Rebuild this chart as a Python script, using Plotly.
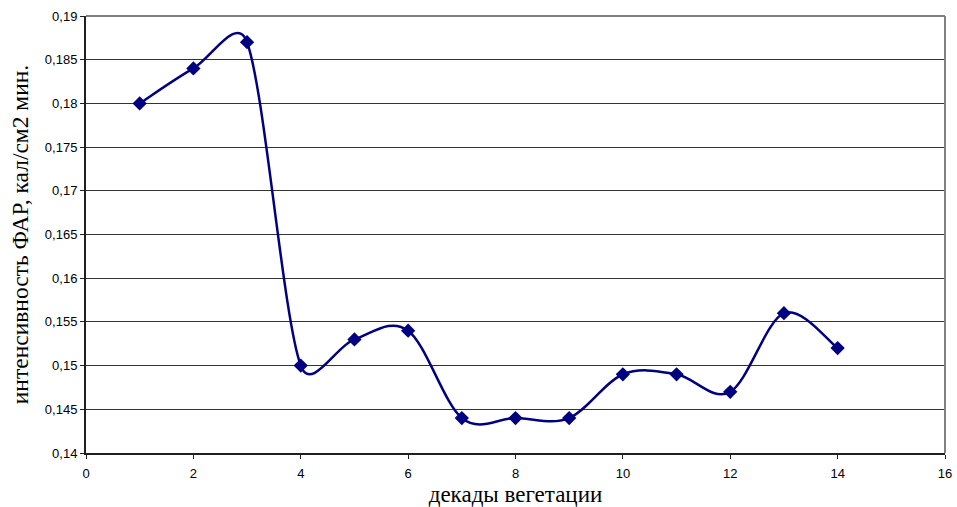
import math
import plotly.graph_objects as go

# Декады вегетации и интенсивность ФАР
decades = [1, 2, 3, 4, 5, 6, 7, 8, 9, 10, 11, 12, 13, 14]
intensity = [0.180, 0.184, 0.187, 0.150, 0.153, 0.154, 0.144, 0.144, 0.144,
             0.149, 0.149, 0.147, 0.156, 0.152]

x_ticks = list(range(0, 17, 2))
y_ticks = [0.14 + 0.005 * i for i in range(11)]
y_labels = [f"{v:.3f}".rstrip("0").replace(".", ",") for v in y_ticks]

X_RANGE = (0, 16)
Y_RANGE = (0.14, 0.19)
FIG_W, FIG_H = 957, 507
MARGIN = dict(l=86, r=12, t=16, b=54)
PLOT_W = FIG_W - MARGIN["l"] - MARGIN["r"]
PLOT_H = FIG_H - MARGIN["t"] - MARGIN["b"]


def to_px(x, y):
    return ((x - X_RANGE[0]) / (X_RANGE[1] - X_RANGE[0]) * PLOT_W,
            (y - Y_RANGE[0]) / (Y_RANGE[1] - Y_RANGE[0]) * PLOT_H)


def to_data(px, py):
    return (X_RANGE[0] + px / PLOT_W * (X_RANGE[1] - X_RANGE[0]),
            Y_RANGE[0] + py / PLOT_H * (Y_RANGE[1] - Y_RANGE[0]))


def smooth_path(xs, ys):
    """Office-style smoothed line: cubic Bezier segments whose control
    points follow the neighbouring points (1/6 tension), limited so the
    handles never exceed half of a short segment."""
    pts = [to_px(x, y) for x, y in zip(xs, ys)]
    n = len(pts)
    dist = lambda a, b: math.hypot(a[0] - b[0], a[1] - b[1])
    x0, y0 = to_data(*pts[0])
    path = f"M {x0},{y0}"
    for i in range(n - 1):
        p0 = pts[i - 1] if i > 0 else pts[i]
        p1, p2 = pts[i], pts[i + 1]
        p3 = pts[i + 2] if i + 2 < n else pts[i + 1]
        d12 = dist(p1, p2)
        d02 = dist(p0, p2)
        d13 = dist(p1, p3)
        f0 = min(1 / 6, 0.5 * d12 / d02) if d02 else 0
        f3 = min(1 / 6, 0.5 * d12 / d13) if d13 else 0
        c1 = (p1[0] + f0 * (p2[0] - p0[0]), p1[1] + f0 * (p2[1] - p0[1]))
        c2 = (p2[0] - f3 * (p3[0] - p1[0]), p2[1] - f3 * (p3[1] - p1[1]))
        a = to_data(*c1)
        b = to_data(*c2)
        e = to_data(*p2)
        path += f" C {a[0]},{a[1]} {b[0]},{b[1]} {e[0]},{e[1]}"
    return path


fig = go.Figure()

# smoothed connecting line
fig.add_shape(type="path", xref="x", yref="y", layer="between",
              path=smooth_path(decades, intensity),
              line=dict(color="#000080", width=2.5))

fig.add_trace(go.Scatter(
    x=decades, y=intensity,
    mode="markers",
    marker=dict(symbol="diamond", size=11, color="#000080"),
    showlegend=False,
    hoverinfo="x+y",
))

# grey frame on top and right of the plotting area
fig.add_shape(type="line", xref="paper", yref="paper", x0=0, x1=1, y0=1, y1=1,
              line=dict(color="#808080", width=2))
fig.add_shape(type="line", xref="paper", yref="paper", x0=1, x1=1, y0=0, y1=1,
              line=dict(color="#808080", width=2))

fig.update_layout(
    template="none",
    width=FIG_W, height=FIG_H,
    margin=MARGIN,
    paper_bgcolor="white", plot_bgcolor="white",
    font=dict(family="Liberation Sans, Arial", size=13, color="black"),
    xaxis=dict(
        range=list(X_RANGE), tickvals=x_ticks, ticktext=[str(t) for t in x_ticks],
        automargin=False,
        showgrid=False, zeroline=False,
        showline=True, linecolor="#202020", linewidth=2,
        ticks="outside", ticklen=4, tickcolor="#202020", tickwidth=1,
        ticklabelstandoff=3,
        tickfont=dict(size=13),
        title=dict(text="декады вегетации",
                   font=dict(family="Liberation Serif, Times New Roman", size=23),
                   standoff=6),
    ),
    yaxis=dict(
        range=list(Y_RANGE), tickvals=y_ticks, ticktext=y_labels,
        automargin=False,
        showgrid=True, gridcolor="#333333", gridwidth=1,
        zeroline=False,
        showline=True, linecolor="#202020", linewidth=2,
        ticks="outside", ticklen=4, tickcolor="#202020", tickwidth=1,
        tickfont=dict(size=13),
        title=dict(text="интенсивность ФАР, кал/см2 мин.",
                   font=dict(family="Liberation Serif, Times New Roman", size=23.5),
                   standoff=10),
    ),
)

fig.write_html("out.html")
